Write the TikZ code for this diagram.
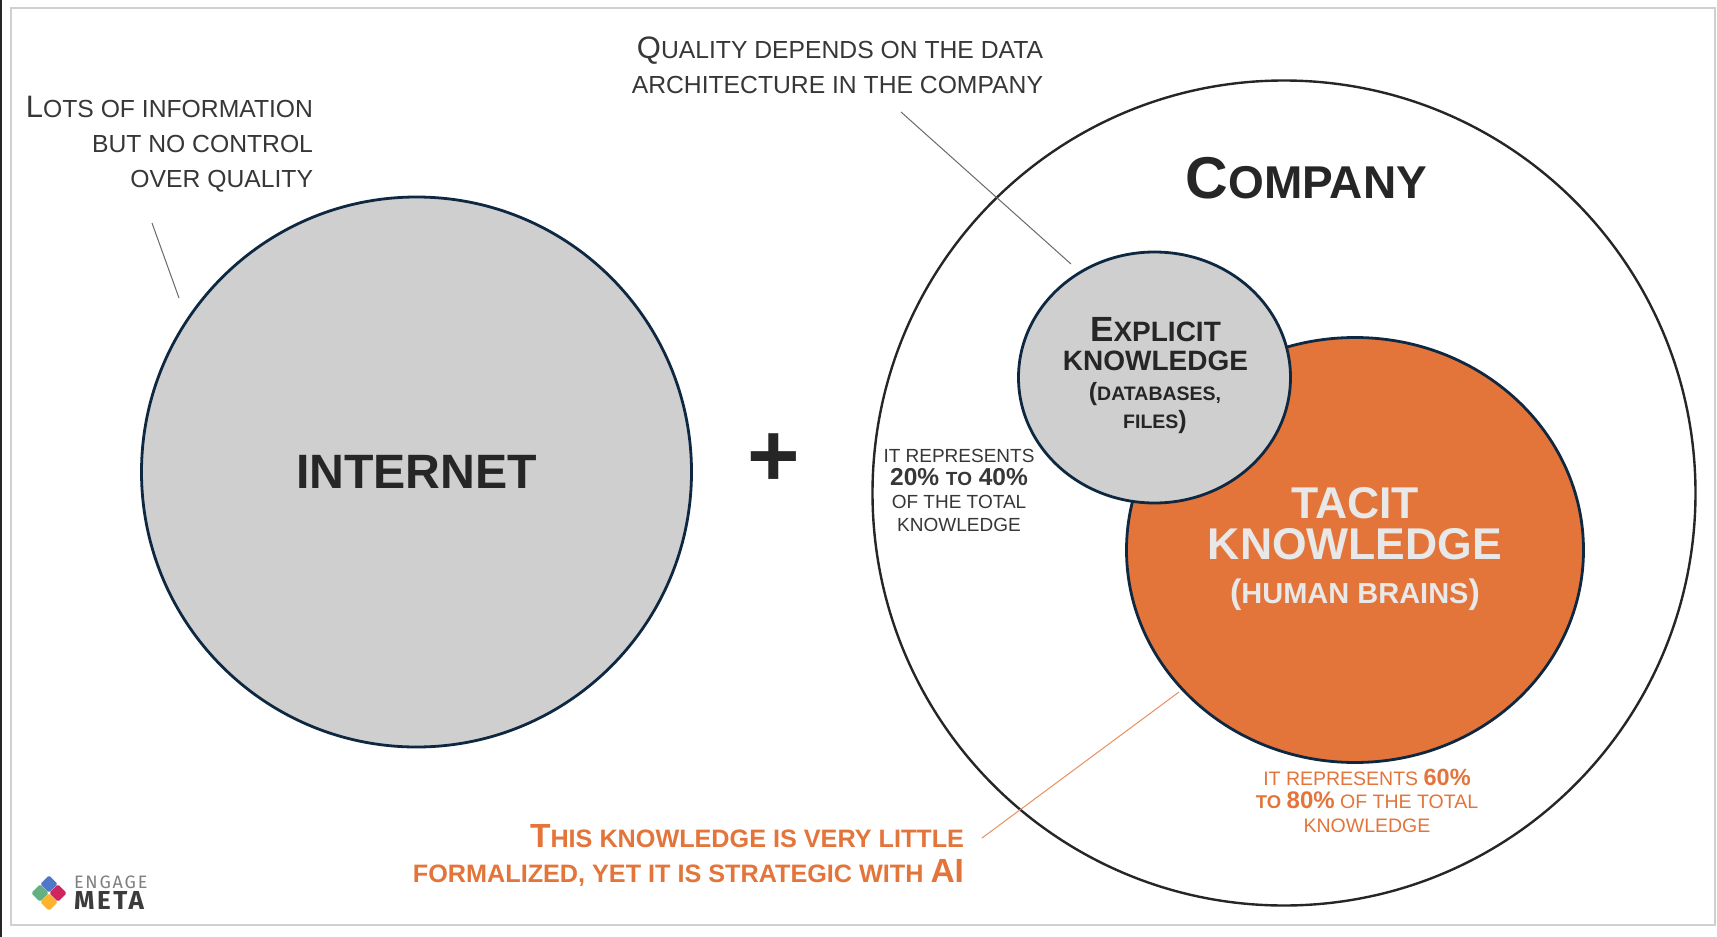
\documentclass[tikz,border=0pt]{standalone}
\usepackage{fontspec}
\usetikzlibrary{shapes.geometric}
\setmainfont{Liberation Sans}
\newfontfamily\logofont[LetterSpace=10]{Fira Sans}
\definecolor{inkdark}{HTML}{262626}
\definecolor{circlegray}{HTML}{CFCFCF}
\definecolor{navyline}{HTML}{0E2841}
\definecolor{tacitorange}{HTML}{E3743A}
\definecolor{tacittext}{HTML}{E8E8E8}
\definecolor{framegray}{HTML}{D0D0D0}
\definecolor{leadgray}{HTML}{6A6A6A}
\definecolor{tileblue}{HTML}{5078C8}
\definecolor{tilered}{HTML}{D0255F}
\definecolor{tileyellow}{HTML}{FDB32B}
\definecolor{tilegreen}{HTML}{65B080}
\newcommand\Fz[2]{{\fontsize{#1}{#1}\selectfont #2}}
\tikzset{
  x=1pt,y=-1pt,
  every node/.style={inner sep=0pt,outer sep=0pt},
  bluecircle/.style={ellipse,draw=navyline,line width=2.8pt,fill=circlegray},
  note/.style={text=inkdark!92!white,align=right,font=\fontsize{24.7}{35}\selectfont},
  small/.style={text=inkdark!92!white,align=center,font=\fontsize{19}{23}\selectfont},
  orangetxt/.style={text=tacitorange,align=center,font=\fontsize{19.5}{23.5}\selectfont},
  leader/.style={draw=leadgray,line width=1pt},
  tile/.style={diamond,minimum width=17.5pt,minimum height=17.5pt,rounded corners=1.5pt},
}
\begin{document}
\begin{tikzpicture}
\useasboundingbox (0,0) rectangle (1717,937);
\fill[white] (0,0) rectangle (1717,937);
\fill[black!85] (0,0) rectangle (1.5,937);
\draw[framegray,line width=2.6pt] (11,8) rectangle (1715,925);

\node[bluecircle,minimum width=550pt,minimum height=550pt,text=inkdark,font=\bfseries\fontsize{48.2}{48.2}\selectfont] (internet) at (416.5,472) {INTERNET};
\node[ellipse,draw=inkdark,line width=2.4pt,fill=white,minimum width=823pt,minimum height=825pt] (company) at (1284,493) {};
\node[ellipse,draw=navyline,line width=2.8pt,fill=tacitorange,minimum width=457pt,minimum height=425pt] (tacit) at (1355,550) {};
\node[bluecircle,minimum width=272pt,minimum height=251pt] (explicit) at (1154.5,377.5) {};

\node[text=inkdark,font=\bfseries\fontsize{90}{90}\selectfont] (plus) at (774,460) {+};
\node[anchor=base,text=inkdark,font=\bfseries\fontsize{46}{46}\selectfont] (companylabel) at (1306.5,198) {\Fz{59}{C}OMPANY};

\node[note,anchor=base east] (lotsnote) at (313,187) {\Fz{31}{L}OTS OF INFORMATION\\BUT NO CONTROL\\OVER QUALITY};
\node[note,anchor=base east] (qualnote) at (1043,93) {\Fz{31}{Q}UALITY DEPENDS ON THE DATA\\ARCHITECTURE IN THE COMPANY};

\node[anchor=base,align=center,text=inkdark,font=\bfseries\fontsize{28}{29}\selectfont] (explicitlabel) at (1155.5,370) {\Fz{35}{E}XPLICIT\\KNOWLEDGE};
\node[anchor=base,align=center,text=inkdark,font=\bfseries\fontsize{19.5}{28}\selectfont] (explicitsub) at (1155,428) {\Fz{25}{(}DATABASES,\\FILES\Fz{25}{)}};

\node[small,anchor=base] (share1) at (959,531) {IT REPRESENTS\\[0pt]\Fz{24.5}{\bfseries 20\% }\Fz{19}{\bfseries TO}\Fz{24.5}{\bfseries\ 40\%}\\OF THE TOTAL\\KNOWLEDGE};

\node[anchor=base,align=center,text=tacittext,font=\bfseries\fontsize{44.5}{41}\selectfont] (tacitlabel) at (1355,559) {TACIT\\KNOWLEDGE};
\node[anchor=base,text=tacittext,font=\bfseries\fontsize{29}{29}\selectfont] (tacitsub) at (1355,603) {\Fz{34}{(}HUMAN BRAINS\Fz{34}{)}};

\node[orangetxt,anchor=base] (share2) at (1367,832) {IT REPRESENTS \Fz{23.5}{\bfseries 60\%}\\\Fz{18.5}{\bfseries TO} \Fz{24}{\bfseries 80\%} OF THE TOTAL\\KNOWLEDGE};

\node[anchor=base east,align=right,text=tacitorange,font=\bfseries\fontsize{25.2}{35}\selectfont] (thisnote) at (964,882) {\Fz{33.5}{T}HIS KNOWLEDGE IS VERY LITTLE\\FORMALIZED, YET IT IS STRATEGIC WITH \Fz{33.5}{AI}};

\coordinate (l1a) at (152,223);
\coordinate (l1b) at (179,298);
\coordinate (l2a) at (901,112);
\coordinate (l2b) at (1071,264);
\coordinate (l3a) at (982,838);
\coordinate (l3b) at (1179,692);
\draw[leader] (l1a) -- (l1b);
\draw[leader] (l2a) -- (l2b);
\draw[draw=tacitorange!80!white,line width=1pt] (l3a) -- (l3b);

% logo
\node[tile,fill=tileblue] (tileb) at (49,884) {};
\node[tile,fill=tilered] (tiler) at (58,893) {};
\node[tile,fill=tileyellow] (tiley) at (49,902) {};
\node[tile,fill=tilegreen] (tileg) at (40,893) {};
\node[anchor=base west,text=gray,font=\logofont\fontsize{18}{18}\selectfont] (engage) at (74,888) {ENGAGE};
\node[anchor=base west,text=inkdark!90!white,font=\logofont\bfseries\fontsize{26}{26}\selectfont] (meta) at (74,909) {META};
\end{tikzpicture}
\end{document}
